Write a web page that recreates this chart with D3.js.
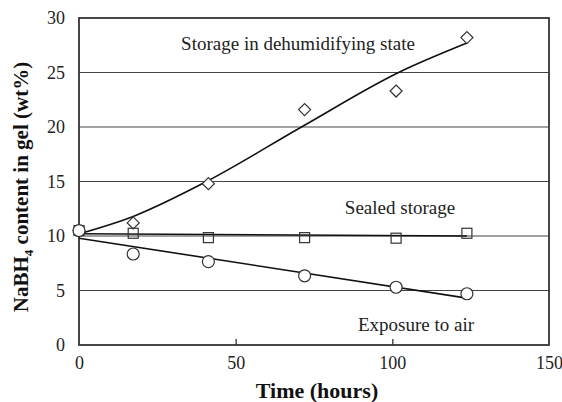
<!DOCTYPE html>
<html>
<head>
<meta charset="utf-8">
<script src="https://cdn.jsdelivr.net/npm/d3@7"></script>
<style>
  body { margin: 0; background: #fff; }
  svg { display: block; font-family: "Liberation Serif", "DejaVu Serif", serif; }
</style>
</head>
<body>
<svg id="chart"></svg>
<script>
const width = 562, height = 402;
const margin = { top: 18, right: 13, bottom: 57, left: 79 };

// measured points (hours, wt%)
const dehumidPts = [[0, 10.5], [17.3, 11.2], [41.3, 14.8], [72, 21.6], [101.2, 23.3], [123.8, 28.2]];
const sealedPts = [[0, 10.5], [17.3, 10.25], [41.3, 9.85], [72, 9.85], [101.2, 9.8], [123.8, 10.25]];
const airPts = [[0, 10.5], [17.3, 8.35], [41.3, 7.65], [72, 6.35], [101.2, 5.3], [123.8, 4.7]];

// fitted lines
const dehumidFit = [[0, 10.2], [17.3, 11.8], [40.7, 15], [71, 20], [102, 25], [123.8, 27.7]];
const sealedFit = [[0, 10.2], [123.8, 10.0]];
const airFit = [[0, 9.8], [123.8, 4.3]];

const xTicks = [0, 50, 100, 150];
const yTicks = [0, 5, 10, 15, 20, 25, 30];

const svg = d3.select("#chart").attr("width", width).attr("height", height);
const w = width - margin.left - margin.right;
const h = height - margin.top - margin.bottom;
const g = svg.append("g").attr("transform", `translate(${margin.left},${margin.top})`);

const x = d3.scaleLinear().domain([0, 150]).range([0, w]);
const y = d3.scaleLinear().domain([0, 30]).range([h, 0]);

// gridlines
g.append("g").selectAll("line")
  .data(yTicks.filter(d => d > 0 && d < 30))
  .join("line")
  .attr("x1", 0).attr("x2", w)
  .attr("y1", d => y(d)).attr("y2", d => y(d))
  .attr("stroke", "#444").attr("stroke-width", 1.2);

// frame
g.append("rect")
  .attr("width", w).attr("height", h)
  .attr("fill", "none").attr("stroke", "#333").attr("stroke-width", 1.8);

const xAxis = g.append("g")
  .attr("transform", `translate(0,${h})`)
  .call(d3.axisBottom(x).tickValues(xTicks).tickSizeInner(-6).tickSizeOuter(0).tickPadding(11));
const yAxis = g.append("g")
  .call(d3.axisLeft(y).tickValues(yTicks).tickSize(0).tickPadding(14));

[xAxis, yAxis].forEach(ax => {
  ax.select(".domain").remove();
  ax.selectAll("line").attr("stroke", "#333").attr("stroke-width", 1.3);
  ax.selectAll("text")
    .attr("font-family", "Liberation Serif, serif")
    .attr("font-size", 18).attr("fill", "#222");
});
xAxis.selectAll(".tick").filter(d => d === 0 || d === 150).select("line").remove();

// fit lines
g.append("path").datum(dehumidFit)
  .attr("d", d3.line().x(d => x(d[0])).y(d => y(d[1])).curve(d3.curveMonotoneX))
  .attr("fill", "none").attr("stroke", "#111").attr("stroke-width", 1.6);
[sealedFit, airFit].forEach(pts => {
  g.append("path").datum(pts)
    .attr("d", d3.line().x(d => x(d[0])).y(d => y(d[1])))
    .attr("fill", "none").attr("stroke", "#111").attr("stroke-width", 1.6);
});

// markers
const mk = { fill: "#fff", stroke: "#333", sw: 1.2 };
g.append("g").selectAll("path")
  .data(dehumidPts).join("path")
  .attr("transform", d => `translate(${x(d[0])},${y(d[1])})`)
  .attr("d", "M0,-6L6,0L0,6L-6,0Z")
  .attr("fill", mk.fill).attr("stroke", mk.stroke).attr("stroke-width", mk.sw);
g.append("g").selectAll("rect")
  .data(sealedPts).join("rect")
  .attr("x", d => x(d[0]) - 5).attr("y", d => y(d[1]) - 5)
  .attr("width", 10).attr("height", 10)
  .attr("fill", "none").attr("stroke", mk.stroke).attr("stroke-width", mk.sw);
g.append("g").selectAll("circle")
  .data(airPts).join("circle")
  .attr("cx", d => x(d[0])).attr("cy", d => y(d[1])).attr("r", 6)
  .attr("fill", mk.fill).attr("stroke", mk.stroke).attr("stroke-width", mk.sw);

// annotations
const notes = [
  { text: "Storage in dehumidifying state", cx: 298, cy: 43 },
  { text: "Sealed storage", cx: 400, cy: 207 },
  { text: "Exposure to air", cx: 416, cy: 324 }
];
svg.append("g").selectAll("text")
  .data(notes).join("text")
  .attr("x", d => d.cx).attr("y", d => d.cy)
  .attr("dy", "0.35em")
  .attr("text-anchor", "middle")
  .attr("font-size", 19).attr("fill", "#222")
  .text(d => d.text);

// axis titles
svg.append("text")
  .attr("x", 317).attr("y", 398)
  .attr("text-anchor", "middle")
  .attr("font-size", 22).attr("font-weight", "bold").attr("fill", "#111")
  .text("Time (hours)");

const yt = svg.append("text")
  .attr("transform", "translate(28,187) rotate(-90)")
  .attr("text-anchor", "middle")
  .attr("font-size", 21).attr("font-weight", "bold").attr("fill", "#111");
yt.append("tspan").text("NaBH");
yt.append("tspan").attr("font-size", 13).attr("dy", 5).text("4");
yt.append("tspan").attr("dy", -5).text(" content  in gel (wt%)");
</script>
</body>
</html>
